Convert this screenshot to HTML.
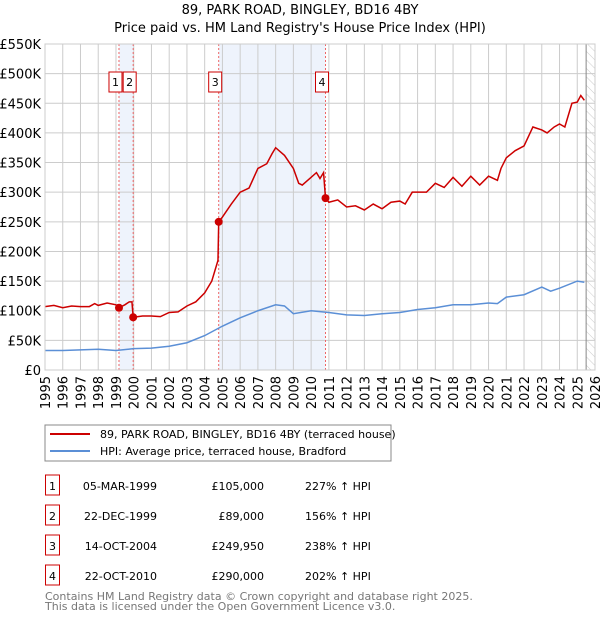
<!DOCTYPE html>
<html><head><meta charset="utf-8"><style>
body{margin:0;background:#fff;width:600px;height:620px;overflow:hidden;font-family:"DejaVu Sans","Liberation Sans",sans-serif;}
svg text{font-family:"DejaVu Sans","Liberation Sans",sans-serif;}
</style></head><body>
<svg id="c" width="600" height="620">
<defs><pattern id="hatch" width="6" height="6" patternUnits="userSpaceOnUse" patternTransform="rotate(-45)"><line x1="0" y1="0" x2="0" y2="6" stroke="#ccc" stroke-width="1"/></pattern></defs>
<text x="300" y="14" text-anchor="middle" font-size="13">89, PARK ROAD, BINGLEY, BD16 4BY</text>
<text x="300" y="32" text-anchor="middle" font-size="13">Price paid vs. HM Land Registry's House Price Index (HPI)</text>
<g id="plot"></g>
<rect x="45" y="425" width="346" height="36" fill="#fff" stroke="#888"/>
<line x1="50" y1="434" x2="90" y2="434" stroke="#cc0000" stroke-width="2"/>
<text x="100" y="438" font-size="11">89, PARK ROAD, BINGLEY, BD16 4BY (terraced house)</text>
<line x1="50" y1="451" x2="90" y2="451" stroke="#5b8fd6" stroke-width="2"/>
<text x="100" y="455" font-size="11">HPI: Average price, terraced house, Bradford</text>
<g id="table" font-size="11"></g>
<text x="45" y="600" font-size="11" fill="#777">Contains HM Land Registry data © Crown copyright and database right 2025.</text>
<text x="45" y="610" font-size="11" fill="#777">This data is licensed under the Open Government Licence v3.0.</text>
</svg>
<script>
const redX=[1995,1995.5,1996,1996.5,1997,1997.5,1997.8,1998,1998.5,1999,1999.17,1999.5,1999.75,1999.9,1999.97,2000.5,2001,2001.5,2002,2002.5,2003,2003.5,2004,2004.4,2004.75,2004.79,2005,2005.5,2006,2006.5,2007,2007.5,2007.8,2008,2008.5,2009,2009.3,2009.5,2010,2010.3,2010.5,2010.7,2010.81,2011,2011.5,2012,2012.5,2013,2013.5,2014,2014.5,2015,2015.3,2015.7,2016,2016.5,2017,2017.5,2018,2018.5,2019,2019.5,2020,2020.5,2020.7,2021,2021.5,2022,2022.5,2023,2023.3,2023.7,2024,2024.3,2024.7,2025,2025.2,2025.4];
const redV=[107,109,105,108,107,107,112,109,113,110,105,110,115,115,89,91,91,90,97,98,108,115,130,150,185,250,258,280,300,307,340,348,365,375,362,340,315,312,325,333,323,333,290,283,287,275,277,270,280,272,283,285,280,300,300,300,315,308,325,310,327,312,327,320,340,358,370,378,410,405,400,410,415,410,450,452,463,455];
const hpiX=[1995,1996,1997,1998,1999,2000,2001,2002,2003,2004,2005,2006,2007,2008,2008.5,2009,2010,2011,2012,2013,2014,2015,2016,2017,2018,2019,2020,2020.5,2021,2022,2023,2023.5,2024,2025,2025.4];
const hpiV=[33,33,34,35,33,36,37,40,46,58,74,88,100,110,108,95,100,97,93,92,95,97,102,105,110,110,113,112,123,127,140,133,138,150,148];
const saleX=[1999.17,1999.97,2004.79,2010.81];
const saleV=[105,89,249.95,290];
const saleLabels=["1","2","3","4"];
const saleDates=["05-MAR-1999","22-DEC-1999","14-OCT-2004","22-OCT-2010"];
const salePrices=["£105,000","£89,000","£249,950","£290,000"];
const saleHpi=["227% ↑ HPI","156% ↑ HPI","238% ↑ HPI","202% ↑ HPI"];
const yTicks=[0,50,100,150,200,250,300,350,400,450,500,550];
const yTickLabels=["£0","£50K","£100K","£150K","£200K","£250K","£300K","£350K","£400K","£450K","£500K","£550K"];
const years=[1995,1996,1997,1998,1999,2000,2001,2002,2003,2004,2005,2006,2007,2008,2009,2010,2011,2012,2013,2014,2015,2016,2017,2018,2019,2020,2021,2022,2023,2024,2025,2026];
const X0=45,X1=595,Y0=370,Y1=44;
const sx=v=>X0+(v-1995)/(2026-1995)*(X1-X0);
const sy=v=>Y0-v/550*(Y0-Y1);
const NS="http://www.w3.org/2000/svg";
const plot=document.getElementById('plot');
function mk(tag,attrs,parent){const e=document.createElementNS(NS,tag);for(const k in attrs)e.setAttribute(k,attrs[k]);(parent||plot).appendChild(e);return e;}
let e;
e=mk('rect',{x:sx(saleX[0]),y:Y1,width:sx(saleX[1])-sx(saleX[0]),height:Y0-Y1,fill:'#eef3fc'});


e=mk('rect',{x:sx(saleX[2]),y:Y1,width:sx(saleX[3])-sx(saleX[2]),height:Y0-Y1,fill:'#eef3fc'});


e=mk('rect',{x:sx(2025.5),y:Y1,width:X1-sx(2025.5),height:Y0-Y1,fill:'url(#hatch)'});


yTicks.forEach((t,i)=>{
 e=mk('line',{x1:X0,x2:X1,y1:sy(t),y2:sy(t),stroke:'#ccc','stroke-width':1});
 
 
 e=mk('text',{x:X0-4,y:sy(t)+5,'text-anchor':'end','font-size':13});
 e.textContent=yTickLabels[i];
 
 
});
years.forEach(y=>{
 e=mk('line',{x1:sx(y),x2:sx(y),y1:Y1,y2:Y0,stroke:'#ccc','stroke-width':1});
 
 
 e=mk('text',{x:0,y:0,'text-anchor':'end','font-size':13,transform:`translate(${sx(y)+5},${Y0+6}) rotate(-90)`});
 e.textContent=y;
 
 
});
e=mk('line',{x1:sx(2025.5),x2:sx(2025.5),y1:Y1,y2:Y0,stroke:'#888','stroke-width':1});


saleX.forEach((s,i)=>{
 e=mk('line',{x1:sx(s),x2:sx(s),y1:Y1,y2:Y0,stroke:'#e66','stroke-width':1,'stroke-dasharray':'2,2'});
 
 
});
e=mk('polyline',{points:hpiX.map((x,i)=>sx(x)+','+sy(hpiV[i])).join(' '),fill:'none',stroke:'#5b8fd6','stroke-width':1.5});


e=mk('polyline',{points:redX.map((x,i)=>sx(x)+','+sy(redV[i])).join(' '),fill:'none',stroke:'#cc0000','stroke-width':1.5});


saleX.forEach((s,i)=>{
 e=mk('circle',{cx:sx(s),cy:sy(saleV[i]),r:4,fill:'#cc0000'});
 
 
 const cx=sx(s)-3.5;
 e=mk('rect',{x:cx-6.5,y:72,width:13,height:20,fill:'#fff',stroke:'#cc0000'});
 
 
 e=mk('text',{x:cx,y:86,'text-anchor':'middle','font-size':11});
 e.textContent=saleLabels[i];
 
 
});
e=mk('rect',{x:X0,y:Y1,width:X1-X0,height:Y0-Y1,fill:'none',stroke:'#ccc'});


const tb=document.getElementById('table');
saleX.forEach((s,i)=>{
 const y=492+i*30;
 e=mk('rect',{x:45.5,y:y-17,width:14,height:20,fill:'#fff',stroke:'#cc0000'},tb);
 
 
 e=mk('text',{x:52.5,y:y-2,'text-anchor':'middle'},tb);e.textContent=saleLabels[i];
 
 
 e=mk('text',{x:157,y:y-2,'text-anchor':'end'},tb);e.textContent=saleDates[i];
 
 
 e=mk('text',{x:264,y:y-2,'text-anchor':'end'},tb);e.textContent=salePrices[i];
 
 
 e=mk('text',{x:305,y:y-2},tb);e.textContent=saleHpi[i];
 
 
});
</script>
</body></html>
